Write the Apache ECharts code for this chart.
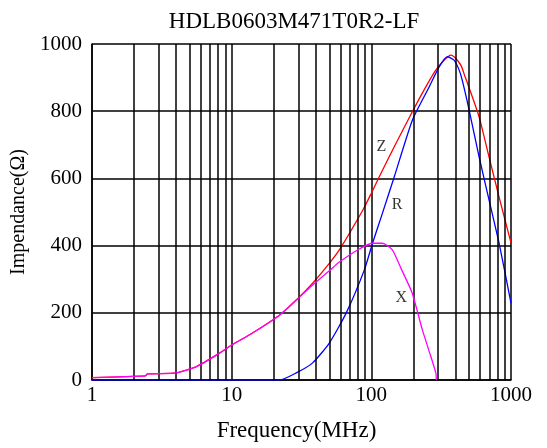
<!DOCTYPE html>
<html>
<head>
<meta charset="utf-8">
<script src="https://cdn.jsdelivr.net/npm/echarts@6/dist/echarts.min.js"></script>
<style>html,body{margin:0;padding:0;background:#fff;}#c{width:547px;height:448px;}</style>
</head>
<body>
<div id="c"></div>
<script>
var titleText = 'HDLB0603M471T0R2-LF';
var xName = 'Frequency(MHz)';
var yName = 'Impendance(\u03A9)';

var zFreq = [1, 2.4, 2.5, 4, 5.6, 8.2, 10, 14.1, 22, 29, 38, 50, 59, 87, 100, 114, 150, 197, 246, 290, 332, 371, 403, 440, 467, 501, 591, 696, 821, 1000];
var zVal  = [7, 12, 18, 21, 40, 80, 104, 140, 193, 238, 288, 347, 387, 506, 556, 605, 704, 799, 873, 923, 952, 967, 957, 935, 905, 870, 783, 664, 545, 408];

var rFreq = [1, 22, 29, 38, 50, 66, 89, 102, 120, 146, 197, 260, 306, 351, 391, 425, 447, 501, 591, 696, 821, 1000];
var rVal  = [0, 0, 21, 51, 110, 199, 327, 407, 496, 605, 774, 873, 932, 962, 952, 923, 893, 804, 664, 536, 408, 229];

var xFreq = [1, 2.4, 2.5, 4, 5.6, 8.2, 10, 14.1, 22, 29, 38, 50, 59, 82, 102, 120, 141, 164, 196, 232, 262, 290, 292];
var xVal  = [7, 12, 18, 21, 40, 80, 104, 140, 193, 238, 283, 325, 351, 390, 407, 407, 388, 330, 259, 149, 80, 20, 0];

var curveLabels = [
  {name: 'Z', value: [118, 693]},
  {name: 'R', value: [153, 521]},
  {name: 'X', value: [164, 244]}
];

var minorFreq = [2, 3, 4, 5, 6, 7, 8, 9, 20, 30, 40, 50, 60, 70, 80, 90, 200, 300, 400, 500, 600, 700, 800, 900];

function pairs(f, v) { return f.map(function (x, i) { return [x, v[i]]; }); }

var serif = '"Liberation Serif", "Times New Roman", serif';
var gridLine = {color: '#000', width: 1.5};

var chart = echarts.init(document.getElementById('c'), null, {renderer: 'canvas'});
chart.setOption({
  animation: false,
  backgroundColor: '#fff',
  title: {
    text: titleText,
    left: 289,
    textAlign: 'center',
    top: 5,
    textStyle: {fontFamily: serif, fontSize: 23, fontWeight: 'normal', color: '#000'}
  },
  grid: {left: 92, right: 36, top: 44, bottom: 68, containLabel: false},
  xAxis: {
    type: 'log',
    logBase: 10,
    min: 1,
    max: 1000,
    name: xName,
    nameLocation: 'middle',
    nameGap: 39,
    nameTextStyle: {fontFamily: serif, fontSize: 23, color: '#000', padding: [0, 10, 0, 0]},
    axisLine: {lineStyle: gridLine},
    axisTick: {show: false},
    axisLabel: {fontFamily: serif, fontSize: 21, color: '#000', margin: 5,
      formatter: function (v) { return String(v); }},
    splitLine: {show: true, lineStyle: gridLine}
  },
  yAxis: {
    type: 'value',
    min: 0,
    max: 1000,
    interval: 200,
    name: yName,
    nameLocation: 'middle',
    nameGap: 55,
    nameTextStyle: {fontFamily: serif, fontSize: 20, color: '#000'},
    axisLine: {show: true, lineStyle: gridLine},
    axisTick: {show: false},
    axisLabel: {fontFamily: serif, fontSize: 21, color: '#000', margin: 10,
      formatter: function (v) { return String(v); }},
    splitLine: {show: true, lineStyle: gridLine}
  },
  series: [
    {
      name: 'minor',
      type: 'line',
      data: [[1, 0]],
      showSymbol: false,
      lineStyle: {opacity: 0},
      silent: true,
      z: 1,
      markLine: {
        silent: true,
        symbol: ['none', 'none'],
        label: {show: false},
        lineStyle: {color: '#000', width: 1.5, type: 'solid'},
        data: minorFreq.map(function (f) { return {xAxis: f}; })
      }
    },
    {
      name: 'Z', type: 'line', data: pairs(zFreq, zVal), showSymbol: false, smooth: 0.2,
      lineStyle: {color: '#ff0000', width: 1.3}, z: 3
    },
    {
      name: 'R', type: 'line', data: pairs(rFreq, rVal), showSymbol: false, smooth: 0.2,
      lineStyle: {color: '#0000ff', width: 1.3}, z: 4
    },
    {
      name: 'X', type: 'line', data: pairs(xFreq, xVal), showSymbol: false, smooth: 0.2,
      lineStyle: {color: '#ff00ff', width: 1.3}, z: 5
    },
    {
      name: 'labels', type: 'scatter', data: curveLabels, symbolSize: 0, z: 6,
      label: {show: true, position: 'inside', formatter: '{b}', color: '#000',
        fontFamily: serif, fontSize: 16}
    }
  ]
});
</script>
</body>
</html>
